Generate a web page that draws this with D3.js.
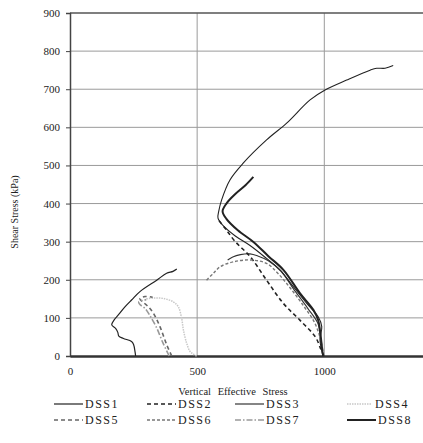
<!DOCTYPE html>
<html>
<head>
<meta charset="utf-8">
<script src="https://cdn.jsdelivr.net/npm/d3@7"></script>
<style>
  body { margin: 0; background: #fff; }
  svg text { font-family: "Liberation Serif", "Times New Roman", "DejaVu Serif", serif; fill: #222; }
</style>
</head>
<body>
<div id="chart"></div>
<script>
// ticks
const xTicks = [0, 500, 1000];
const yTicks = [0, 100, 200, 300, 400, 500, 600, 700, 800, 900];

// series: [vertical effective stress, shear stress]
const dss1 = [[258,0],[256,10],[250,30],[242,38],[210,46],[192,52],[188,62],[180,72],[164,82],[175,96],[190,108],[216,129],[242,147],[275,169],[341,199],[380,217],[405,222],[420,228]];
const dss2 = [[998,0],[985,20],[965,50],[904,94],[839,138],[773,199],[708,261],[650,300],[610,335],[582,358]];
const dss3 = [[996,0],[990,15],[983,42],[990,77],[976,103],[931,138],[878,182],[826,226],[773,256],[708,290],[650,315],[605,340],[582,362],[585,380],[596,409],[629,462],[681,506],[773,567],[852,611],[944,672],[1003,698],[1088,724],[1180,750],[1206,755],[1239,755],[1271,762]];
const dss3b = [[995,0],[985,45],[975,85],[935,125],[880,175],[830,222],[780,250],[740,262],[708,268],[670,266],[640,260],[620,252]];
const dss4 = [[498,0],[485,5],[472,12],[459,33],[446,68],[439,99],[426,129],[406,142],[367,151],[330,152],[300,150]];
const dss5 = [[400,0],[380,30],[355,75],[330,110],[310,128],[290,140],[275,150],[295,156],[325,154]];
const dss6 = [[537,199],[564,217],[590,234],[642,247],[708,252],[773,243],[820,215],[870,175],[920,130],[960,90],[985,45],[998,0]];
const dss7 = [[390,0],[365,35],[340,75],[315,105],[295,125],[275,135],[270,142],[300,148]];
const dss8 = [[996,0],[993,10],[976,94],[957,121],[904,165],[839,226],[780,262],[720,300],[660,330],[615,360],[600,380],[615,400],[650,425],[690,448],[721,470]];

const series = [
  { name: "DSS1", data: dss1, color: "#222", width: 1.2, dash: null },
  { name: "DSS2", data: dss2, color: "#222", width: 1.6, dash: "4,3" },
  { name: "DSS3", data: dss3, color: "#222", width: 1.1, dash: null },
  { name: "DSS4", data: dss4, color: "#c8c8c8", width: 1.5, dash: "1.5,1" },
  { name: "DSS5", data: dss5, color: "#666", width: 1.6, dash: "4,3" },
  { name: "DSS6", data: dss6, color: "#777", width: 1.4, dash: "3,2" },
  { name: "DSS7", data: dss7, color: "#999", width: 1.6, dash: "6,2,1.5,2" },
  { name: "DSS8", data: dss8, color: "#222", width: 2, dash: null }
];
const extra = [{ name: "DSS3", data: dss3b, color: "#333", width: 1.1, dash: null }];

const width = 423, height = 443;
const margin = { left: 70, top: 13 };
const plotBottom = 356;
const serif = "'Liberation Serif', 'Times New Roman', 'DejaVu Serif', serif";

const svg = d3.select("#chart").append("svg")
  .attr("width", width).attr("height", height)
  .attr("font-family", serif);

const x = d3.scaleLinear().domain([0, 1500]).range([margin.left, margin.left + 1500 * 0.2543]);
const y = d3.scaleLinear().domain([0, 900]).range([plotBottom, margin.top]);

// grid
svg.append("g").selectAll("line").data(yTicks.filter(d => d > 0 && d < 900)).enter()
  .append("line")
  .attr("x1", x(0)).attr("x2", width)
  .attr("y1", d => y(d)).attr("y2", d => y(d))
  .attr("stroke", "#9a9a9a").attr("stroke-width", 1);

svg.append("g").selectAll("line").data(xTicks.filter(d => d > 0)).enter()
  .append("line")
  .attr("x1", d => x(d)).attr("x2", d => x(d))
  .attr("y1", y(900)).attr("y2", y(0))
  .attr("stroke", "#9a9a9a").attr("stroke-width", 1);

// top border
svg.append("line")
  .attr("x1", x(0)).attr("x2", width)
  .attr("y1", y(900)).attr("y2", y(900))
  .attr("stroke", "#555").attr("stroke-width", 1.5);

// y axis
const yAxis = svg.append("g")
  .attr("transform", `translate(${x(0)},0)`)
  .call(d3.axisLeft(y).tickValues(yTicks).tickSize(4).tickPadding(6));
yAxis.attr("font-family", serif).attr("font-size", 11);
yAxis.select(".domain").attr("stroke", "#444").attr("stroke-width", 1.5);
yAxis.selectAll(".tick line").attr("stroke", "#444");
yAxis.selectAll("text").attr("fill", "#222");

// x axis
const xAxis = svg.append("g")
  .attr("transform", `translate(0,${y(0)})`)
  .call(d3.axisBottom(x).tickValues(xTicks).tickFormat(d3.format("d")).tickSize(0).tickPadding(11));
xAxis.attr("font-family", serif).attr("font-size", 11);
xAxis.select(".domain").attr("stroke", "#333").attr("stroke-width", 2.5);
xAxis.selectAll("text").attr("fill", "#222");

// axis titles
svg.append("text")
  .attr("x", 233).attr("y", 395)
  .attr("text-anchor", "middle")
  .style("font-size", "10.5px").style("word-spacing", "4px")
  .text("Vertical Effective Stress");

svg.append("text")
  .attr("transform", "translate(18,212) rotate(-90)")
  .attr("text-anchor", "middle")
  .style("font-size", "10px")
  .text("Shear Stress (kPa)");

// curves
const line = d3.line().x(d => x(d[0])).y(d => y(d[1])).curve(d3.curveCatmullRom.alpha(0.5));

svg.append("g").selectAll("path").data(extra.concat(series)).enter()
  .append("path")
  .attr("d", d => line(d.data))
  .attr("fill", "none")
  .attr("stroke", d => d.color)
  .attr("stroke-width", d => d.width)
  .attr("stroke-dasharray", d => d.dash);

// legend
const legendCols = [54, 147, 235, 347];
const legendRows = [404, 420];
const legend = svg.append("g").selectAll("g").data(series).enter()
  .append("g")
  .attr("transform", (d, i) => `translate(${legendCols[i % 4]},${legendRows[Math.floor(i / 4)]})`);

legend.append("line")
  .attr("x1", 0).attr("x2", (d, i) => i === 3 ? 24 : 29)
  .attr("y1", 0).attr("y2", 0)
  .attr("stroke", d => d.color)
  .attr("stroke-width", d => d.width)
  .attr("stroke-dasharray", d => d.dash);

legend.append("text")
  .attr("x", (d, i) => i === 3 ? 28 : 31)
  .attr("y", 4)
  .style("font-size", "12px").style("letter-spacing", "1.5px")
  .text(d => d.name);
</script>
</body>
</html>
